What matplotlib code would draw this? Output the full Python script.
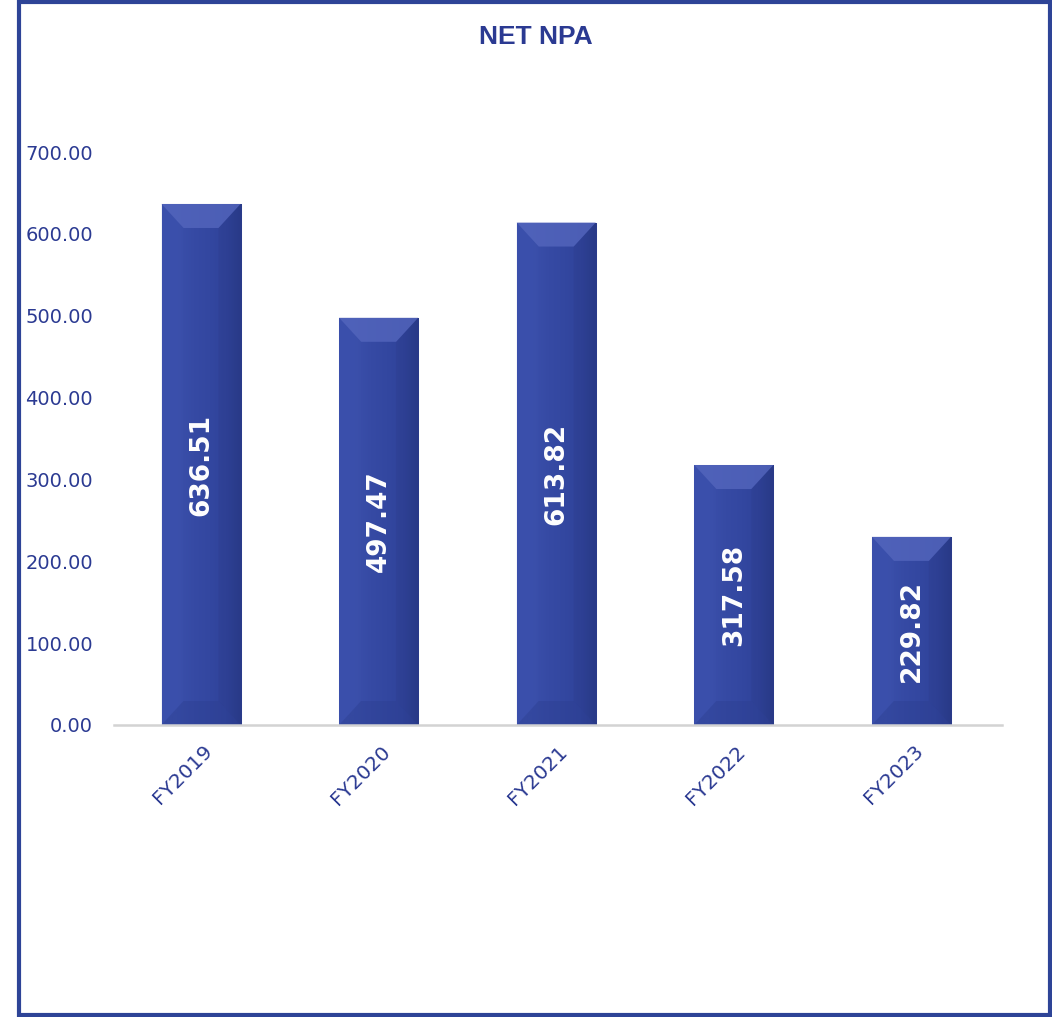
"""
Net NPA by fiscal year: bevelled column chart with framed panel.
"""

import matplotlib
matplotlib.use("Agg")
import matplotlib.pyplot as plt
import matplotlib.patches as mpatches
from matplotlib.colors import LinearSegmentedColormap
import numpy as np

# ---------------------------------------------------------------------------
# Data
# ---------------------------------------------------------------------------
YEARS = ["FY2019", "FY2020", "FY2021", "FY2022", "FY2023"]
NET_NPA = [636.51, 497.47, 613.82, 317.58, 229.82]
Y_TICKS = [0, 100, 200, 300, 400, 500, 600, 700]

NAVY = "#2B3A92"
FRAME = "#2E4497"
BASE_LINE = "#D3D3D3"

# horizontal shading across each column (left light, right dark)
body_cmap = LinearSegmentedColormap.from_list(
    "body", ["#3A4FAB", "#3A4FAA", "#364AA4", "#3347A0", "#30439A", "#2A3B8A"])

W, H, DPI = 1052, 1017, 100
fig = plt.figure(figsize=(W / DPI, H / DPI), dpi=DPI)
fig.patch.set_facecolor("white")

ax = fig.add_axes([114 / W, 1 - 725 / H, 888 / W, 573 / H])
ax.set_facecolor("none")
ax.set_xlim(-0.5, len(YEARS) - 0.5)
ax.set_ylim(0, 700)

# pixel -> data conversion for the bevel size
pos = ax.get_position()
px_x = pos.width * W / (len(YEARS))
px_y = pos.height * H / 700.0

x = np.arange(len(YEARS))
bar_w = 0.445
bars = ax.bar(x - 0.01, NET_NPA, bar_w, color="#3448A0", edgecolor="#C9CDE2",
              linewidth=0.8, zorder=2)

grad = np.linspace(0, 1, 256).reshape(1, -1)
bev_x = 22 / px_x
bev_y = 24 / px_y

for b, v in zip(bars, NET_NPA):
    x0, x1 = b.get_x(), b.get_x() + b.get_width()
    top = v
    im = ax.imshow(grad, cmap=body_cmap, extent=(x0, x1, 0, top),
                   aspect="auto", zorder=2.1, interpolation="bilinear")
    im.set_clip_path(b)

    # top bevel (light), side bevels and bottom bevel
    ax.add_patch(mpatches.Polygon(
        [(x0, top), (x1, top), (x1 - bev_x, top - bev_y), (x0 + bev_x, top - bev_y)],
        closed=True, facecolor="#5466BD", edgecolor="none", alpha=0.8, zorder=2.2))
    ax.add_patch(mpatches.Polygon(
        [(x0, top), (x0 + bev_x, top - bev_y), (x0 + bev_x, bev_y), (x0, 0)],
        closed=True, facecolor="#4257B3", edgecolor="none", alpha=0.12, zorder=2.2))
    ax.add_patch(mpatches.Polygon(
        [(x1, top), (x1 - bev_x, top - bev_y), (x1 - bev_x, bev_y), (x1, 0)],
        closed=True, facecolor="#22306F", edgecolor="none", alpha=0.12, zorder=2.2))
    ax.add_patch(mpatches.Polygon(
        [(x0, 0), (x1, 0), (x1 - bev_x, bev_y), (x0 + bev_x, bev_y)],
        closed=True, facecolor="#2C3E90", edgecolor="none", alpha=0.4, zorder=2.2))

    ax.text(b.get_x() + b.get_width() / 2, v / 2, f"{v:.2f}",
            rotation=90, ha="center", va="center", color="white",
            fontsize=19, fontweight="bold", family="DejaVu Sans", zorder=3)

# axes styling
for side in ["top", "right", "left"]:
    ax.spines[side].set_visible(False)
ax.spines["bottom"].set_color(BASE_LINE)
ax.spines["bottom"].set_linewidth(1.8)
ax.spines["bottom"].set_zorder(4)

ax.set_yticks(Y_TICKS)
ax.set_yticklabels([f"{t:.2f}" for t in Y_TICKS])
ax.tick_params(axis="y", length=0, pad=15, labelsize=14, labelcolor=NAVY)
ax.set_xticks(x)
ax.set_xticklabels(YEARS, rotation=45, ha="right", rotation_mode="anchor")
ax.tick_params(axis="x", length=0, pad=12, labelsize=14.5, labelcolor=NAVY)

fig.text(536 / W, 1 - 37 / H, "NET NPA", ha="center", va="center",
         fontsize=19, fontweight="bold", family="Liberation Sans", color=NAVY)

# panel frame
frame = mpatches.Rectangle((19 / W, 2 / H), (1050 - 19) / W, (1015 - 2) / H,
                           transform=fig.transFigure, fill=False,
                           edgecolor=FRAME, linewidth=3.0)
fig.patches.append(frame)

fig.savefig("out.png", dpi=DPI, facecolor=fig.get_facecolor())
